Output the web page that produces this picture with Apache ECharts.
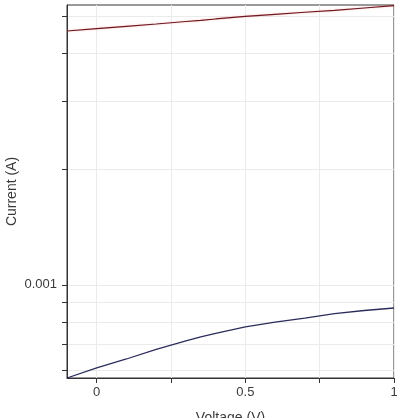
<!DOCTYPE html>
<html lang="en" style="height: 100%">
<head>
  <meta charset="utf-8">
</head>
<body style="height: 100%; margin: 0; background: #fff">
  <div id="container" style="height: 100%"></div>

  <script type="text/javascript" src="https://cdn.jsdelivr.net/npm/echarts@6/dist/echarts.min.js"></script>

  <script type="text/javascript">
    var dom = document.getElementById('container');
    var myChart = echarts.init(dom, null, { renderer: 'canvas' });

    // sweep voltages (V)
    var voltage = [-0.1, 0, 0.1, 0.2, 0.3, 0.35, 0.4, 0.5, 0.6, 0.7, 0.8, 0.9, 1.0];
    // upper trace current (A)
    var currentHigh = [0.004568, 0.004632, 0.004698, 0.004764, 0.004835, 0.00487, 0.004909, 0.004983, 0.005047, 0.005111, 0.00517, 0.005242, 0.005314];
    // lower trace current (A)
    var currentLow = [0.000573, 0.000609, 0.000642, 0.00068, 0.000715, 0.000733, 0.000748, 0.000778, 0.0008, 0.00082, 0.000842, 0.000858, 0.000871];

    var xTicks = [0, 0.25, 0.5, 0.75, 1];
    var xLabels = [0, 0.5, 1];
    var yTicks = [0.0006, 0.0007, 0.0008, 0.0009, 0.001, 0.002, 0.003, 0.004, 0.005];
    var yLabels = [0.001];

    function pairs(xs, ys) {
      return xs.map(function (x, i) { return [x, ys[i]]; });
    }

    var axisColor = '#333';
    var textColor = '#3a3a3a';
    var option = {
      animation: false,
      textStyle: { fontFamily: 'Liberation Sans, Arial, sans-serif' },
      grid: {
        left: 67, top: 5, right: 3, bottom: 40,
        outerBoundsMode: 'none', containLabel: false,
        show: true, borderColor: axisColor, borderWidth: 1
      },
      xAxis: {
        type: 'value',
        min: -0.1,
        max: 1,
        name: 'Voltage (V)',
        nameLocation: 'middle',
        nameGap: 33,
        nameMoveOverlap: false,
        nameTextStyle: { color: textColor, fontSize: 14 },
        axisLine: { onZero: false, lineStyle: { color: axisColor } },
        axisTick: { customValues: xTicks, length: 5, lineStyle: { color: axisColor } },
        axisLabel: { customValues: xLabels, color: textColor, fontSize: 13, margin: 8 },
        splitLine: { show: true, lineStyle: { color: '#ebebeb' } }
      },
      yAxis: {
        type: 'log',
        min: 0.000573,
        max: 0.005337,
        name: 'Current (A)',
        nameLocation: 'middle',
        nameGap: 48,
        nameMoveOverlap: false,
        nameTextStyle: { color: textColor, fontSize: 14 },
        axisLine: { onZero: false, lineStyle: { color: axisColor } },
        axisTick: { customValues: yTicks, length: 5, lineStyle: { color: axisColor } },
        axisLabel: { customValues: yLabels, color: textColor, fontSize: 13, margin: 10, formatter: function (v) { return String(v); } },
        splitLine: { show: true, lineStyle: { color: '#ebebeb' } }
      },
      series: [
        {
          type: 'line',
          data: pairs(voltage, currentHigh),
          showSymbol: false,
          lineStyle: { color: '#6e1a22', width: 1.2, shadowColor: 'rgba(255,140,140,0.6)', shadowBlur: 2 }
        },
        {
          type: 'line',
          data: pairs(voltage, currentLow),
          showSymbol: false,
          lineStyle: { color: '#2c2c5c', width: 1.3 }
        }
      ]
    };
    myChart.setOption(option);

    window.addEventListener('resize', myChart.resize);
  </script>
</body>
</html>
